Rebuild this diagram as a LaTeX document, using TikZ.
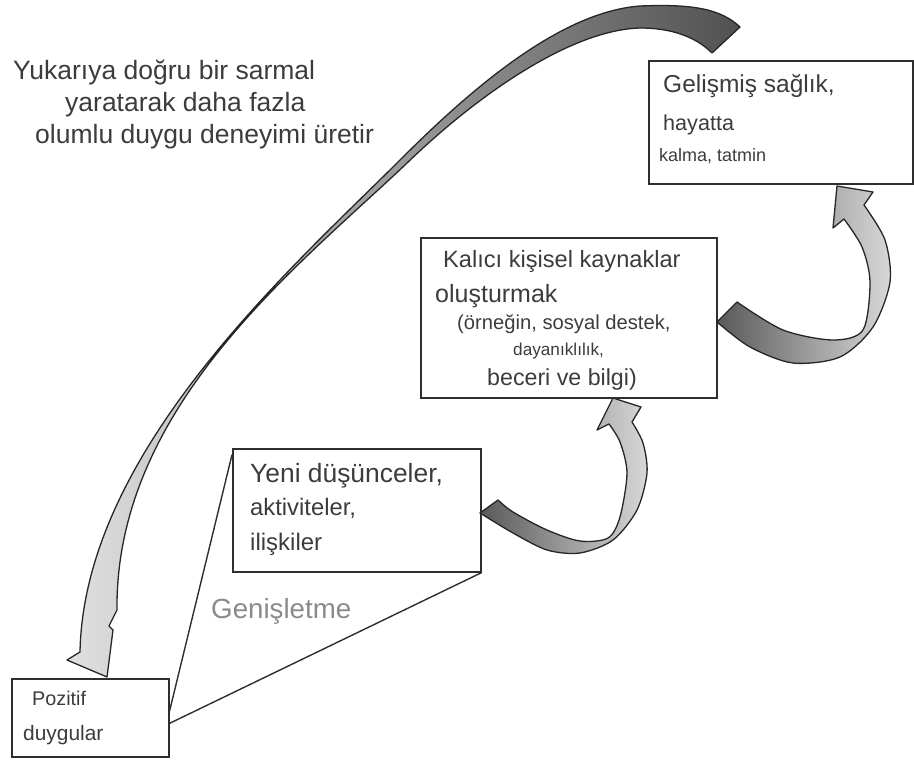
\documentclass[tikz,border=0pt]{standalone}
\usepackage{fontspec}
\setmainfont{Liberation Sans}
\definecolor{txtgray}{HTML}{3C3C3C}
\definecolor{boxgray}{HTML}{2E2E2E}
\definecolor{widegray}{HTML}{8A8A8A}
\newcommand{\fsz}[1]{\fontsize{#1}{#1}\selectfont}

\begin{document}
\begin{tikzpicture}[x=1pt,y=-1pt]
\tikzstyle{every node}+=[inner sep=0pt]
\tikzstyle{box}=[draw=boxgray, line width=1.6pt, anchor=north west]
\tikzstyle{txt}=[anchor=base west, text=txtgray]
\tikzstyle{ribbon}=[draw=black!85, line width=1.3pt, line join=round]
\useasboundingbox (0,0) rectangle (914,760);
\path[ribbon, left color=black!12, right color=black!68] (740,27) .. controls (720,8) and (690,4) .. (640,6)
  .. controls (560,12) and (471,89) .. (400,160) .. controls (294,266) and (84,450) .. (80,652)
  -- (67,660) -- (107,677) -- (113,630) -- (109,626) -- (117,610)
  .. controls (115,408) and (296,268) .. (405,165) .. controls (476,96) and (570,30) .. (640,28)
  .. controls (670,28) and (695,36) .. (712,53) -- cycle;
\path[ribbon, left color=black!65, right color=black!15] plot[smooth] coordinates {(480,513) (513,533) (547,550) (580,553) (613,540) (637,510) (647,473) (643,443) (632,422)} -- (641,407) -- (613,398) -- (597,430) -- plot[smooth] coordinates {(609,424) (620,442) (627,473) (620,517) (608,538) (580,541) (547,530) (513,512) (498,500)} -- cycle;
\path[ribbon, left color=black!65, right color=black!15] plot[smooth] coordinates {(717,322) (750,347) (793,363) (840,357) (873,327) (890,282) (885,240) (864,205)} -- (873,192) -- (837,186) -- (833,228) -- plot[smooth] coordinates {(844,219) (862,247) (870,282) (863,330) (833,340) (783,330) (737,302)} -- cycle;
\node[box, minimum width=264pt, minimum height=123pt] (saglik) at (648,60) {};
\node[box, minimum width=296pt, minimum height=160pt] (kalici) at (420,237) {};
\node[box, minimum width=248pt, minimum height=123pt] (yeni) at (232,448) {};
\node[box, minimum width=157pt, minimum height=78pt] (pozitif) at (11,678) {};
\draw [boxgray, line width=1.4pt] (pozitif.5) -- (yeni.156);
\draw [boxgray, line width=1.4pt] (pozitif.-4) -- (yeni.south east);
\node[txt, font=\fsz{26.5}] (spiral1) at (13,80) {Yukarıya doğru bir sarmal};
\node[txt, font=\fsz{26.5}] (spiral2) at (65,112) {yaratarak daha fazla};
\node[txt, font=\fsz{26.5}] (spiral3) at (35,143) {olumlu duygu deneyimi üretir};
\node[txt, font=\fsz{24.5}] (saglik1) at (663,93) {Gelişmiş sağlık,};
\node[txt, font=\fsz{21.6}] (saglik2) at (663,130) {hayatta};
\node[txt, font=\fsz{18}] (saglik3) at (659,161) {kalma, tatmin};
\node[txt, font=\fsz{23.6}] (kalici1) at (443,267) {Kalıcı kişisel kaynaklar};
\node[txt, font=\fsz{25}] (kalici2) at (435,302) {oluşturmak};
\node[txt, font=\fsz{20.2}] (kalici3) at (457,329) {(örneğin, sosyal destek,};
\node[txt, font=\fsz{17.2}] (kalici4) at (513,355) {dayanıklılık,};
\node[txt, font=\fsz{23.2}] (kalici5) at (487,385) {beceri ve bilgi)};
\node[txt, font=\fsz{26.4}] (yeni1) at (250,482) {Yeni düşünceler,};
\node[txt, font=\fsz{23.8}] (yeni2) at (250,515) {aktiviteler,};
\node[txt, font=\fsz{24}] (yeni3) at (250,550) {ilişkiler};
\node[txt, font=\fsz{27.7}, text=widegray] (genis) at (211,618) {Genişletme};
\node[txt, font=\fsz{19.8}] (pozitif1) at (32,705) {Pozitif};
\node[txt, font=\fsz{20.9}] (pozitif2) at (23,740) {duygular};
\end{tikzpicture}
\end{document}
